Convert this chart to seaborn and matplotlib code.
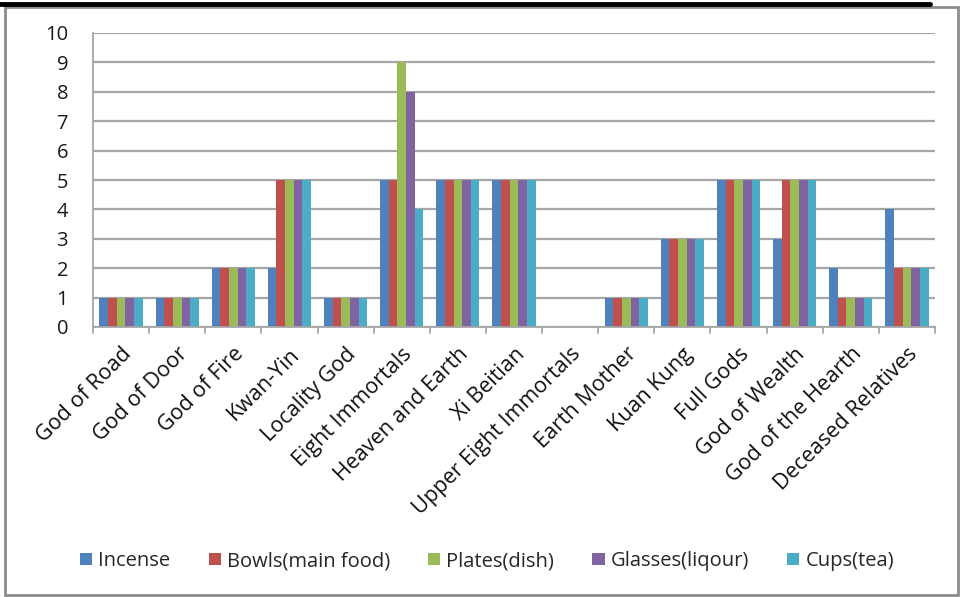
import matplotlib
matplotlib.use("Agg")
import matplotlib.pyplot as plt
import seaborn as sns
import pandas as pd
from matplotlib.lines import Line2D
from matplotlib.patches import Rectangle

deities = ["God of Road", "God of Door", "God of Fire", "Kwan-Yin", "Locality God",
           "Eight Immortals", "Heaven and Earth", "Xi Beitian", "Upper Eight Immortals",
           "Earth Mother", "Kuan Kung", "Full Gods", "God of Wealth",
           "God of the Hearth", "Deceased Relatives"]
series = ["Incense", "Bowls(main food)", "Plates(dish)", "Glasses(liqour)", "Cups(tea)"]
incense = [1, 1, 2, 2, 1, 5, 5, 5, 0, 1, 3, 5, 3, 2, 4]
bowls = [1, 1, 2, 5, 1, 5, 5, 5, 0, 1, 3, 5, 5, 1, 2]
plates = [1, 1, 2, 5, 1, 9, 5, 5, 0, 1, 3, 5, 5, 1, 2]
glasses = [1, 1, 2, 5, 1, 8, 5, 5, 0, 1, 3, 5, 5, 1, 2]
cups = [1, 1, 2, 5, 1, 4, 5, 5, 0, 1, 3, 5, 5, 1, 2]
colors = ["#4F81BD", "#C0504D", "#9BBB59", "#8064A2", "#4BACC6"]
yticks = list(range(0, 11))

rows = []
for name, vals in zip(series, [incense, bowls, plates, glasses, cups]):
    for d, v in zip(deities, vals):
        rows.append({"Deity": d, "Offering": name, "Count": v})
df = pd.DataFrame(rows)

sns.set_theme(style="white")
plt.rcParams["font.family"] = ["Open Sans", "DejaVu Sans"]

fig = plt.figure(figsize=(9.62, 5.97), dpi=100)
ax = fig.add_axes([93 / 962, 1 - 327 / 597, (935 - 93) / 962, (327 - 33) / 597])

sns.barplot(data=df, x="Deity", y="Count", hue="Offering", order=deities,
            hue_order=series, palette=colors, width=0.77, saturation=1,
            linewidth=0, ax=ax, legend=True)

ax.set_ylim(0, 10)
ax.set_xlim(-0.5, len(deities) - 0.5)
ax.set_yticks(yticks)
ax.set_yticklabels([str(t) for t in yticks], fontsize=14.5, color="#1a1a1a")
ax.yaxis.grid(True, color="#A6A6A6", linewidth=1.6)
ax.set_axisbelow(True)
ax.set_xlabel("")
ax.set_ylabel("")

for s in ["top", "right"]:
    ax.spines[s].set_visible(False)
for s in ["left", "bottom"]:
    ax.spines[s].set_color("#A6A6A6")
    ax.spines[s].set_linewidth(1.3)

ax.set_xticks([i for i in range(len(deities))])
ax.set_xticklabels(deities, rotation=45, ha="right", rotation_mode="anchor",
                   fontsize=15.5, color="#111111")
ax.tick_params(axis="x", length=0, pad=12)
ax.tick_params(axis="y", length=6, color="#A6A6A6", width=1.3, pad=12)
for b in range(len(deities) + 1):
    ax.plot([b - 0.5, b - 0.5], [0, -0.22], color="#A6A6A6", lw=1.3,
            clip_on=False, zorder=3)

handles, labels = ax.get_legend_handles_labels()
ax.legend_.remove()
fig.legend(handles, labels, loc="center", bbox_to_anchor=(487 / 962, 1 - 561 / 597),
           ncol=5, frameon=False, fontsize=14.5, handlelength=0.6, handleheight=0.6,
           handletextpad=0.3, columnspacing=1.9)

# chart frame and top rule
fig.patches.append(Rectangle((5 / 962, 2 / 597), (958 - 5) / 962, (590 - 2) / 597,
                             transform=fig.transFigure, fill=False,
                             edgecolor="#8C8C8C", linewidth=2))
fig.lines.append(Line2D([0, 930 / 962], [1 - 4 / 597, 1 - 4 / 597],
                        transform=fig.transFigure, color="black", linewidth=3.5))

fig.savefig("out.png", dpi=100)
